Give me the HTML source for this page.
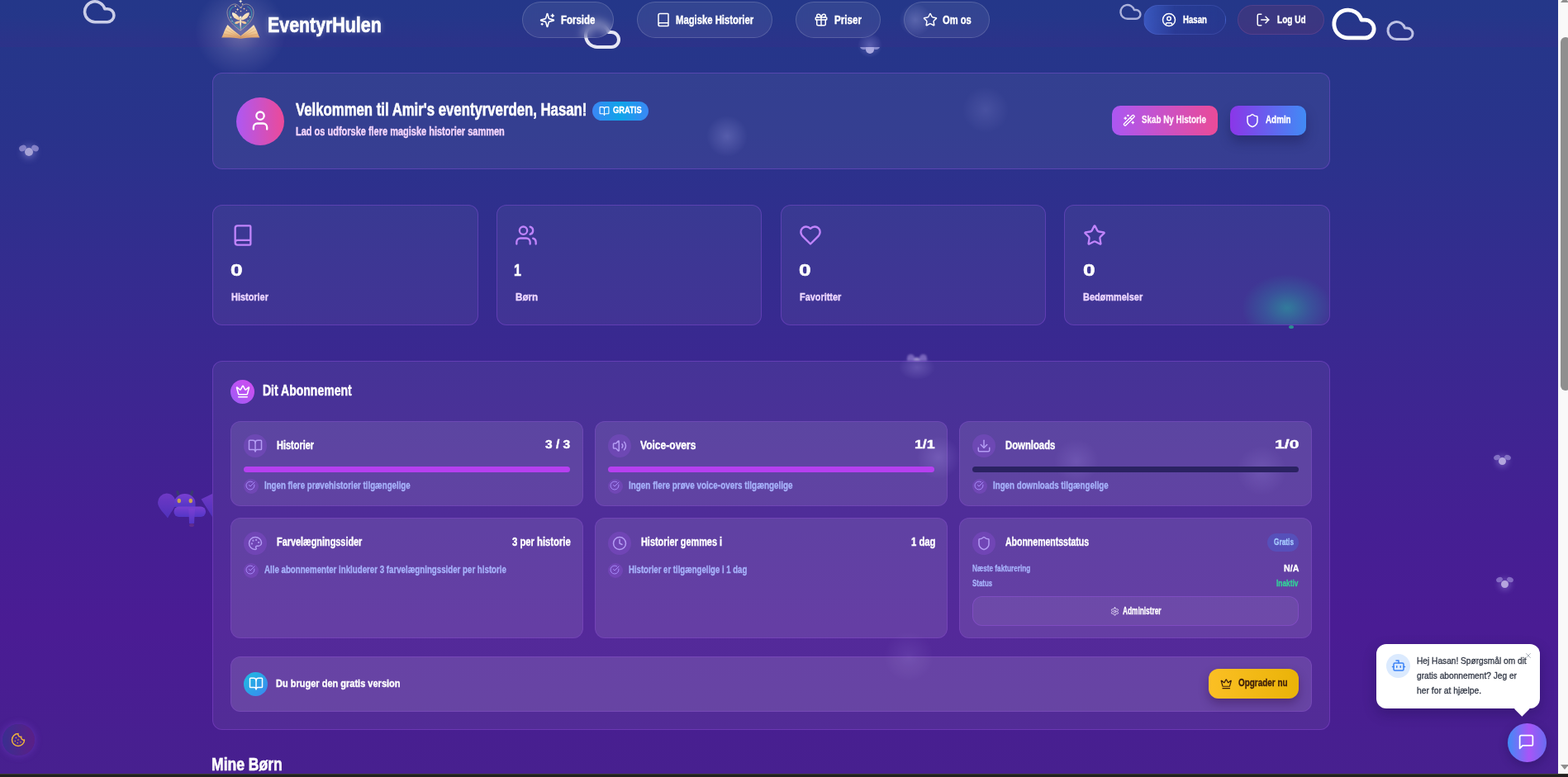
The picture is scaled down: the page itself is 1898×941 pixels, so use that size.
<!DOCTYPE html>
<html lang="da"><head><meta charset="utf-8"><title>EventyrHulen</title>
<style>
*{box-sizing:border-box;margin:0;padding:0}
html,body{width:1898px;height:941px;overflow:hidden;background:#202020}
body{position:relative;font-family:"Liberation Sans",sans-serif}
#page{position:absolute;left:0;top:0;width:1886px;height:937px;overflow:hidden;
 background:linear-gradient(180deg,#243789 0px,#29338b 160px,#342c8f 330px,#3d2691 480px,#451f93 640px,#4a1c94 760px,#47208f 937px)}
.a{position:absolute}
.tx{position:absolute;white-space:nowrap;transform-origin:0 50%;font-family:"Liberation Sans",sans-serif}
.ic{position:absolute;overflow:visible}
.pill{position:absolute;border-radius:999px;border:1px solid rgba(255,255,255,.16);background:rgba(255,255,255,.07);backdrop-filter:blur(6px)}
.card{position:absolute;border-radius:12px;border:1px solid rgba(168,85,247,.30);background:rgba(255,255,255,.05)}
.icard{position:absolute;border-radius:12px;border:1px solid rgba(168,85,247,.22);background:rgba(255,255,255,.10)}
.circ{position:absolute;border-radius:50%}
.ib{position:absolute;border-radius:50%;width:28px;height:28px;background:rgba(168,85,247,.22)}
.cb{position:absolute;border-radius:50%;width:18px;height:18px;background:rgba(168,85,247,.22)}
.bar{position:absolute;height:7px;border-radius:4px}
#sb{position:absolute;left:1886px;top:0;width:12px;height:937px;background:#f9f9f9}
</style></head><body>
<div id="page">
 <div class="a" style="left:0;top:0;width:1886px;height:57px;background:linear-gradient(180deg,rgba(88,28,135,0) 35%,rgba(88,28,135,.13) 100%)"></div>
 <!-- logo glow -->
 <div class="a" style="left:236px;top:-16px;width:110px;height:108px;border-radius:50%;background:radial-gradient(closest-side,rgba(175,168,200,.5),rgba(160,155,205,.2) 50%,rgba(140,150,230,0))"></div>
 <!-- decorative clouds -->
 <svg class="ic" style="left:99px;top:-7.4px;width:42.5px;height:42.5px;color:rgba(225,226,245,.88);" viewBox="0 0 24 24" fill="none" stroke="currentColor" stroke-width="2" stroke-linecap="round" stroke-linejoin="round"><path d="M17.5 19H9a7 7 0 1 1 6.71-9h1.79a4.5 4.5 0 1 1 0 9Z"/></svg>
 <svg class="ic" style="left:704.6px;top:18.8px;width:48px;height:48px;color:rgba(240,240,250,.95);" viewBox="0 0 24 24" fill="none" stroke="currentColor" stroke-width="2" stroke-linecap="round" stroke-linejoin="round"><path d="M17.5 19H9a7 7 0 1 1 6.71-9h1.79a4.5 4.5 0 1 1 0 9Z"/></svg>
 <svg class="ic" style="left:1353.5px;top:0px;width:28.8px;height:28.8px;color:rgba(205,208,240,.8);" viewBox="0 0 24 24" fill="none" stroke="currentColor" stroke-width="2" stroke-linecap="round" stroke-linejoin="round"><path d="M17.5 19H9a7 7 0 1 1 6.71-9h1.79a4.5 4.5 0 1 1 0 9Z"/></svg>
 <svg class="ic" style="left:1610px;top:0px;width:58px;height:58px;color:#ffffff;" viewBox="0 0 24 24" fill="none" stroke="currentColor" stroke-width="2" stroke-linecap="round" stroke-linejoin="round"><path d="M17.5 19H9a7 7 0 1 1 6.71-9h1.79a4.5 4.5 0 1 1 0 9Z"/></svg>
 <svg class="ic" style="left:1677.3px;top:18.6px;width:36px;height:36px;color:rgba(215,217,245,.85);" viewBox="0 0 24 24" fill="none" stroke="currentColor" stroke-width="2" stroke-linecap="round" stroke-linejoin="round"><path d="M17.5 19H9a7 7 0 1 1 6.71-9h1.79a4.5 4.5 0 1 1 0 9Z"/></svg>

 <!-- fireflies -->
 <div class="a" style="left:22px;top:174px;width:26px;height:20px;filter:blur(.7px)">
  <div class="circ" style="left:8px;top:5px;width:10px;height:10px;background:#a7a3d6;box-shadow:0 0 8px 3px rgba(190,185,255,.35)"></div>
  <div class="a" style="left:1px;top:2px;width:9px;height:7px;border-radius:50%;background:rgba(150,145,210,.8);transform:rotate(-25deg)"></div>
  <div class="a" style="left:16px;top:2px;width:9px;height:7px;border-radius:50%;background:rgba(150,145,210,.8);transform:rotate(25deg)"></div>
 </div>
 <div class="a" style="left:1038px;top:57px;width:30px;height:12px;overflow:hidden;filter:blur(.5px)">
  <div class="circ" style="left:9.8px;top:-2.8px;width:10.5px;height:10.5px;background:#aaa9dc"></div>
  <div class="a" style="left:3px;top:-4px;width:10px;height:7px;border-radius:50%;background:rgba(160,160,220,.75)"></div>
  <div class="a" style="left:17px;top:-4px;width:10px;height:7px;border-radius:50%;background:rgba(160,160,220,.75)"></div>
 </div>
 <div class="a" style="left:1038px;top:40px;width:30px;height:30px;border-radius:50%;background:radial-gradient(closest-side,rgba(170,170,240,.35),rgba(170,170,240,0))"></div>
 <div class="a" style="left:1097px;top:427px;width:26px;height:10px;overflow:hidden;filter:blur(1px);opacity:.8">
  <div class="circ" style="left:8px;top:6px;width:9px;height:9px;background:#b3a6da"></div>
  <div class="a" style="left:1px;top:2px;width:9px;height:9px;border-radius:50% 50% 0 0;background:rgba(150,130,210,.8)"></div>
  <div class="a" style="left:16px;top:2px;width:9px;height:9px;border-radius:50% 50% 0 0;background:rgba(150,130,210,.8)"></div>
 </div>
 <div class="a" style="left:1807px;top:550px;width:24px;height:18px;filter:blur(.6px)">
  <div class="circ" style="left:7px;top:4px;width:9px;height:9px;background:#b2a6dd;box-shadow:0 0 7px 3px rgba(190,180,255,.3)"></div>
  <div class="a" style="left:1px;top:1px;width:8px;height:6px;border-radius:50%;background:rgba(150,135,210,.75);transform:rotate(-25deg)"></div>
  <div class="a" style="left:14px;top:1px;width:8px;height:6px;border-radius:50%;background:rgba(150,135,210,.75);transform:rotate(25deg)"></div>
 </div>
 <div class="a" style="left:1810px;top:698px;width:24px;height:18px;filter:blur(.6px)">
  <div class="circ" style="left:7px;top:5px;width:9px;height:9px;background:#b6a5de;box-shadow:0 0 7px 3px rgba(190,180,255,.3)"></div>
  <div class="a" style="left:1px;top:1px;width:8px;height:6px;border-radius:50%;background:rgba(150,130,210,.75);transform:rotate(-25deg)"></div>
  <div class="a" style="left:14px;top:1px;width:8px;height:6px;border-radius:50%;background:rgba(150,130,210,.75);transform:rotate(25deg)"></div>
 </div>

 <!-- dragon -->
 <svg class="a" style="left:185px;top:590px;width:80px;height:50px;filter:blur(.7px)" viewBox="185 590 80 50">
  <defs><linearGradient id="dg" x1="0" y1="0" x2="0" y2="1"><stop offset="0" stop-color="#7a3fd2"/><stop offset="1" stop-color="#5336c6"/></linearGradient></defs>
  <path d="M201.5 597.5a11 11 0 0 1 11 11c0 6-6 12-9.5 19c-4-6-12-12-12-19a11 11 0 0 1 10.5-11z" fill="url(#dg)" opacity=".8"/>
  <path d="M243.5 604.5 L257 598 L257 626 Z" fill="url(#dg)" opacity=".8"/>
  <path d="M216.5 600.5 L214.8 595.5" stroke="#393a72" stroke-width="3.2" stroke-linecap="round"/>
  <path d="M231 600.5 L232.7 595.5" stroke="#393a72" stroke-width="3.2" stroke-linecap="round"/>
  <path d="M211 614 V609 a12.7 11 0 0 1 25.5 0 V614 Z" fill="url(#dg)"/>
  <rect x="210.5" y="613.5" width="38.5" height="12.5" rx="6" fill="url(#dg)"/>
  <path d="M228.5 616 L236 616 L235 634 L229 634 Z" fill="url(#dg)"/>
  <ellipse cx="216.8" cy="606.5" rx="2.2" ry="2.7" fill="#c9a24e"/>
  <ellipse cx="230.8" cy="606.5" rx="2.2" ry="2.7" fill="#c9a24e"/>
  <ellipse cx="232" cy="636" rx="3" ry="2" fill="#7a3a8a" opacity=".5"/>
 </svg>

 <!-- logo -->
 <svg class="a" style="left:255px;top:0;width:70px;height:55px" viewBox="0 0 70 55">
  <defs><linearGradient id="pg" x1="0" y1="0" x2="0" y2="1"><stop offset="0" stop-color="#f9e8c4"/><stop offset=".6" stop-color="#efc58f"/><stop offset="1" stop-color="#d99a66"/></linearGradient>
  <linearGradient id="wg" x1="0" y1="0" x2="1" y2="1"><stop offset="0" stop-color="#fdf6dc"/><stop offset="1" stop-color="#f0c896"/></linearGradient></defs>
  <path d="M36 37 C28 31 20.5 25 20 16 C19.5 9 25 4.5 30 5 C33 5.5 35 8 36 10 C37 8 39 5.5 42 5 C47 4.5 52.5 9 52 16 C51.5 25 44 31 36 37" fill="none" stroke="#cdbba6" stroke-width=".8" opacity=".75"/>
  <path d="M35.5 34.5 C29 29.5 23 24 22.8 17 C22.6 12 25.5 8.5 28.5 8 M37 34.5 C43.5 29.5 49.5 24 49.7 17 C49.9 12 47 8.5 44 8" fill="none" stroke="#3d93a8" stroke-width="1.2" opacity=".85"/>
  <path d="M36.2 -.6 l.7 1.5 l1.5 .7 l-1.5 .7 l-.7 1.5 l-.7 -1.5 l-1.5 -.7 l1.5 -.7z" fill="#f6eed8"/>
  <path d="M32.6 9.8 l.5 1.1 l1.1 .5 l-1.1 .5 l-.5 1.1 l-.5 -1.1 l-1.1 -.5 l1.1 -.5z" fill="#f3d7b8"/>
  <circle cx="30" cy="7.3" r=".9" fill="#f2d3b0"/><circle cx="38.5" cy="5" r=".8" fill="#eed8c0"/>
  <circle cx="37" cy="9" r=".8" fill="#e8c8b0"/><circle cx="40.5" cy="10.6" r=".9" fill="#f0c8a8"/><circle cx="43.5" cy="12.6" r=".7" fill="#f0c8a8"/>
  <circle cx="30.5" cy="14.5" r=".7" fill="#f0d0b8"/><circle cx="36.5" cy="13.6" r=".8" fill="#f0d0b8"/><circle cx="24.5" cy="21" r=".8" fill="#f0e0d0"/><circle cx="47.5" cy="20.5" r=".8" fill="#f0e0d0"/>
  <circle cx="26" cy="25.5" r=".6" fill="#f0e0d0"/><circle cx="45" cy="25" r=".6" fill="#f0e0d0"/>
  <path d="M35.5 22.5 C33 18 28 14.5 26 15.5 C25.5 19.5 29.5 23.5 35 24.5 Z" fill="url(#wg)"/>
  <path d="M37 22.5 C39.5 18 44.5 14.5 46.8 15.5 C47 19.5 43 23.5 37.5 24.5 Z" fill="url(#wg)"/>
  <path d="M35.3 25.5 C32.5 25 29 26.5 29 28.3 C31 29.8 34 28.5 35.5 26.8 Z" fill="#f2c89a"/>
  <path d="M37.2 25.5 C40 25 43.5 26.5 43.5 28.3 C41.5 29.8 38.5 28.5 37 26.8 Z" fill="#f2c89a"/>
  <path d="M36.2 21 C35 22.5 35 28 35.6 31 L36.2 37.5 L36.8 31 C37.4 28 37.4 22.5 36.2 21Z" fill="#f8e8c8"/>
  <circle cx="36.2" cy="21" r="1.4" fill="#f8ecd4"/>
  <path d="M36.3 46.8 L36.3 43.5 C31 39.5 25 34.5 20.5 30 C18.5 33 16.5 37.5 15.5 40.5 C14.8 42.5 14 44 13.2 45.6 C21 45.3 30 45.6 36.3 46.8 Z" fill="url(#pg)"/>
  <path d="M36.3 46.8 L36.3 43.5 C41.6 39.5 47.6 34.5 52.1 30 C54.1 33 56.1 37.5 57.1 40.5 C57.8 42.5 58.6 44 59.4 45.6 C51.6 45.3 42.6 45.6 36.3 46.8 Z" fill="url(#pg)"/>
  <path d="M19.2 33.2 C25 37.5 31 41.5 36.2 45 M17.4 37.2 C24 40 30.5 42.5 36.2 45.6 M15.8 41.2 C23 42.5 30 44 36.2 46.2 M53.4 33.2 C47.6 37.5 41.6 41.5 36.4 45 M55.2 37.2 C48.6 40 42.1 42.5 36.4 45.6 M56.8 41.2 C49.6 42.5 42.6 44 36.4 46.2" fill="none" stroke="#c2875a" stroke-width=".45" opacity=".75"/>
 </svg>

 <!-- nav -->
 <div class="pill" style="left:632px;top:2px;width:111px;height:44px"></div>
 <div class="pill" style="left:771px;top:2px;width:164px;height:44px"></div>
 <div class="pill" style="left:963px;top:2px;width:103px;height:44px"></div>
 <div class="pill" style="left:1094px;top:2px;width:104px;height:44px"></div>
 <svg class="ic" style="left:653px;top:14.5px;width:19px;height:19px;color:#fff;" viewBox="0 0 24 24" fill="none" stroke="currentColor" stroke-width="2" stroke-linecap="round" stroke-linejoin="round"><path d="M9.937 15.5A2 2 0 0 0 8.5 14.063l-6.135-1.582a.5.5 0 0 1 0-.962L8.5 9.936A2 2 0 0 0 9.937 8.5l1.582-6.135a.5.5 0 0 1 .963 0L14.063 8.5A2 2 0 0 0 15.5 9.937l6.135 1.581a.5.5 0 0 1 0 .964L15.5 14.063a2 2 0 0 0-1.437 1.437l-1.582 6.135a.5.5 0 0 1-.963 0z"/><path d="M20 3v4"/><path d="M22 5h-4"/><path d="M4 17v2"/><path d="M5 18H3"/></svg>
 <svg class="ic" style="left:794px;top:15px;width:18px;height:18px;color:#fff;" viewBox="0 0 24 24" fill="none" stroke="currentColor" stroke-width="2" stroke-linecap="round" stroke-linejoin="round"><path d="M4 19.5v-15A2.5 2.5 0 0 1 6.5 2H19a1 1 0 0 1 1 1v18a1 1 0 0 1-1 1H6.5a1 1 0 0 1 0-5H20"/></svg>
 <svg class="ic" style="left:984.5px;top:15px;width:18px;height:18px;color:#fff;" viewBox="0 0 24 24" fill="none" stroke="currentColor" stroke-width="2" stroke-linecap="round" stroke-linejoin="round"><rect x="3" y="8" width="18" height="4" rx="1"/><path d="M12 8v13"/><path d="M19 12v7a2 2 0 0 1-2 2H7a2 2 0 0 1-2-2v-7"/><path d="M7.5 8a2.5 2.5 0 0 1 0-5A4.8 8 0 0 1 12 8a4.8 8 0 0 1 4.5-5 2.5 2.5 0 0 1 0 5"/></svg>
 <svg class="ic" style="left:1116.6px;top:15px;width:18px;height:18px;color:#fff;" viewBox="0 0 24 24" fill="none" stroke="currentColor" stroke-width="2" stroke-linecap="round" stroke-linejoin="round"><path d="M11.525 2.295a.53.53 0 0 1 .95 0l2.31 4.679a2.123 2.123 0 0 0 1.595 1.16l5.166.756a.53.53 0 0 1 .294.904l-3.736 3.638a2.123 2.123 0 0 0-.611 1.878l.882 5.14a.53.53 0 0 1-.771.56l-4.618-2.428a2.122 2.122 0 0 0-1.973 0L6.396 21.01a.53.53 0 0 1-.77-.56l.881-5.139a2.122 2.122 0 0 0-.611-1.879L2.16 9.795a.53.53 0 0 1 .294-.906l5.165-.755a2.122 2.122 0 0 0 1.597-1.16z"/></svg>
 <div class="pill" style="left:1384px;top:6px;width:100px;height:36px;background:linear-gradient(90deg,rgba(75,115,235,.55) 0%,rgba(60,90,210,.16) 38%,rgba(60,90,210,.07) 100%);border-color:rgba(130,150,255,.17)"></div>
 <div class="pill" style="left:1498px;top:6px;width:105px;height:36px;background:rgba(239,68,68,.11);border-color:rgba(200,120,200,.17)"></div>
 <svg class="ic" style="left:1406px;top:14.5px;width:18px;height:18px;color:#fff;" viewBox="0 0 24 24" fill="none" stroke="currentColor" stroke-width="2" stroke-linecap="round" stroke-linejoin="round"><circle cx="12" cy="12" r="10"/><circle cx="12" cy="10" r="3"/><path d="M7 20.662V19a2 2 0 0 1 2-2h6a2 2 0 0 1 2 2v1.662"/></svg>
 <svg class="ic" style="left:1520px;top:14.5px;width:18px;height:18px;color:#fff;" viewBox="0 0 24 24" fill="none" stroke="currentColor" stroke-width="2" stroke-linecap="round" stroke-linejoin="round"><path d="M9 21H5a2 2 0 0 1-2-2V5a2 2 0 0 1 2-2h4"/><polyline points="16 17 21 12 16 7"/><line x1="21" x2="9" y1="12" y2="12"/></svg>

 <!-- welcome card -->
 <div class="card" style="left:257px;top:88px;width:1353px;height:117px;background:rgba(255,255,255,.06)"></div>
 <div class="a" style="left:855px;top:140px;width:50px;height:50px;border-radius:50%;background:radial-gradient(closest-side,rgba(170,170,240,.28),rgba(170,170,240,0))"></div>
 <div class="a" style="left:1165px;top:105px;width:56px;height:56px;border-radius:50%;background:radial-gradient(closest-side,rgba(170,170,240,.16),rgba(170,170,240,0))"></div>
 <div class="circ" style="left:286px;top:117.5px;width:58px;height:58px;background:linear-gradient(90deg,#ad58f3,#ec4a98)"></div>
 <svg class="ic" style="left:301.3px;top:132px;width:28px;height:28px;color:#fff;" viewBox="0 0 24 24" fill="none" stroke="currentColor" stroke-width="2" stroke-linecap="round" stroke-linejoin="round"><path d="M19 21v-2a4 4 0 0 0-4-4H9a4 4 0 0 0-4 4v2"/><circle cx="12" cy="7" r="4"/></svg>
 <div class="a" style="left:717px;top:123.3px;width:68px;height:22.5px;border-radius:12px;background:linear-gradient(90deg,#3b86f5,#0ea5e9 50%,#3b88f6)"></div>
 <svg class="ic" style="left:725.3px;top:127.5px;width:13px;height:13px;color:#fff;" viewBox="0 0 24 24" fill="none" stroke="currentColor" stroke-width="2" stroke-linecap="round" stroke-linejoin="round"><path d="M12 7v14"/><path d="M3 18a1 1 0 0 1-1-1V4a1 1 0 0 1 1-1h5a4 4 0 0 1 4 4 4 4 0 0 1 4-4h5a1 1 0 0 1 1 1v13a1 1 0 0 1-1 1h-6a3 3 0 0 0-3 3 3 3 0 0 0-3-3z"/></svg>
 <div class="a" style="left:1346px;top:128px;width:128px;height:36px;border-radius:10px;background:linear-gradient(90deg,#ab57f2,#ea4b98)"></div>
 <svg class="ic" style="left:1359.2px;top:138.2px;width:15.5px;height:15.5px;color:#fff;" viewBox="0 0 24 24" fill="none" stroke="currentColor" stroke-width="2" stroke-linecap="round" stroke-linejoin="round"><path d="m21.64 3.64-1.28-1.28a1.21 1.21 0 0 0-1.72 0L2.36 18.64a1.21 1.21 0 0 0 0 1.72l1.28 1.28a1.2 1.2 0 0 0 1.72 0L21.64 5.36a1.2 1.2 0 0 0 0-1.72"/><path d="m14 7 3 3"/><path d="M5 6v4"/><path d="M19 14v4"/><path d="M10 2v2"/><path d="M7 8H3"/><path d="M21 16h-4"/><path d="M11 3H9"/></svg>
 <div class="a" style="left:1489px;top:128px;width:92px;height:36px;border-radius:10px;background:linear-gradient(90deg,#8b36e8,#418bf5);box-shadow:0 8px 14px rgba(20,20,70,.35)"></div>
 <svg class="ic" style="left:1507px;top:137px;width:18px;height:18px;color:#fff;" viewBox="0 0 24 24" fill="none" stroke="currentColor" stroke-width="2" stroke-linecap="round" stroke-linejoin="round"><path d="M20 13c0 5-3.5 7.5-7.66 8.95a1 1 0 0 1-.67-.01C7.5 20.5 4 18 4 13V6a1 1 0 0 1 1-1c2 0 4.5-1.2 6.24-2.72a1.17 1.17 0 0 1 1.52 0C14.51 3.81 17 5 19 5a1 1 0 0 1 1 1z"/></svg>

 <!-- stat cards -->
 <div class="card" style="left:257px;top:248.4px;width:321.6px;height:145.4px"></div>
 <div class="card" style="left:600.5px;top:248.4px;width:321.6px;height:145.4px"></div>
 <div class="card" style="left:944.5px;top:248.4px;width:321.6px;height:145.4px"></div>
 <div class="card" style="left:1288.4px;top:248.4px;width:321.6px;height:145.4px;overflow:hidden">
  <div class="a" style="left:214px;top:83px;width:110px;height:82px;border-radius:50%;background:radial-gradient(closest-side,rgba(40,170,160,.6),rgba(40,160,170,.28) 50%,rgba(40,160,170,0))"></div>
 </div>
 <div class="circ" style="left:1559.5px;top:393.5px;width:6px;height:4px;background:#2a8f8f;filter:blur(.6px)"></div>
 <svg class="ic" style="left:280px;top:271px;width:28px;height:28px;color:#c084fc;" viewBox="0 0 24 24" fill="none" stroke="currentColor" stroke-width="2" stroke-linecap="round" stroke-linejoin="round"><path d="M4 19.5v-15A2.5 2.5 0 0 1 6.5 2H19a1 1 0 0 1 1 1v18a1 1 0 0 1-1 1H6.5a1 1 0 0 1 0-5H20"/></svg>
 <svg class="ic" style="left:623.3px;top:271px;width:28px;height:28px;color:#c084fc;" viewBox="0 0 24 24" fill="none" stroke="currentColor" stroke-width="2" stroke-linecap="round" stroke-linejoin="round"><path d="M16 21v-2a4 4 0 0 0-4-4H6a4 4 0 0 0-4 4v2"/><circle cx="9" cy="7" r="4"/><path d="M22 21v-2a4 4 0 0 0-3-3.87"/><path d="M16 3.13a4 4 0 0 1 0 7.75"/></svg>
 <svg class="ic" style="left:967.3px;top:271px;width:28px;height:28px;color:#c084fc;" viewBox="0 0 24 24" fill="none" stroke="currentColor" stroke-width="2" stroke-linecap="round" stroke-linejoin="round"><path d="M19 14c1.49-1.46 3-3.21 3-5.5A5.5 5.5 0 0 0 16.5 3c-1.76 0-3 .5-4.5 2-1.5-1.5-2.74-2-4.5-2A5.5 5.5 0 0 0 2 8.5c0 2.3 1.5 4.05 3 5.5l7 7Z"/></svg>
 <svg class="ic" style="left:1311.2px;top:271px;width:28px;height:28px;color:#c084fc;" viewBox="0 0 24 24" fill="none" stroke="currentColor" stroke-width="2" stroke-linecap="round" stroke-linejoin="round"><path d="M11.525 2.295a.53.53 0 0 1 .95 0l2.31 4.679a2.123 2.123 0 0 0 1.595 1.16l5.166.756a.53.53 0 0 1 .294.904l-3.736 3.638a2.123 2.123 0 0 0-.611 1.878l.882 5.14a.53.53 0 0 1-.771.56l-4.618-2.428a2.122 2.122 0 0 0-1.973 0L6.396 21.01a.53.53 0 0 1-.77-.56l.881-5.139a2.122 2.122 0 0 0-.611-1.879L2.16 9.795a.53.53 0 0 1 .294-.906l5.165-.755a2.122 2.122 0 0 0 1.597-1.16z"/></svg>

 <!-- subscription -->
 <div class="card" style="left:257px;top:437px;width:1353px;height:446.5px;background:rgba(255,255,255,.06)"></div>
 <div class="circ" style="left:279px;top:460px;width:29px;height:29px;background:linear-gradient(45deg,#9b5cf6,#d44cf0)"></div>
 <svg class="ic" style="left:285.2px;top:464.8px;width:18px;height:18px;color:#fff;" viewBox="0 0 24 24" fill="none" stroke="currentColor" stroke-width="2" stroke-linecap="round" stroke-linejoin="round"><path d="M11.562 3.266a.5.5 0 0 1 .876 0L15.39 8.87a1 1 0 0 0 1.516.294L21.183 5.5a.5.5 0 0 1 .798.519l-2.834 10.246a1 1 0 0 1-.956.734H5.81a1 1 0 0 1-.957-.734L2.02 6.02a.5.5 0 0 1 .798-.519l4.276 3.664a1 1 0 0 0 1.516-.294z"/><path d="M5 21h14"/></svg>

 <div class="icard" style="left:279px;top:510px;width:427px;height:102.5px"></div>
 <div class="icard" style="left:720px;top:510px;width:427px;height:102.5px"></div>
 <div class="icard" style="left:1161px;top:510px;width:427px;height:102.5px"></div>
 <div class="icard" style="left:279px;top:627px;width:427px;height:145.5px"></div>
 <div class="icard" style="left:720px;top:627px;width:427px;height:145.5px"></div>
 <div class="icard" style="left:1161px;top:627px;width:427px;height:145.5px"></div>


 <div class="a" style="left:1110px;top:528px;width:52px;height:52px;border-radius:50%;background:radial-gradient(closest-side,rgba(190,170,255,.22),rgba(190,170,255,0))"></div>
 <div class="a" style="left:1276px;top:532px;width:54px;height:54px;border-radius:50%;background:radial-gradient(closest-side,rgba(190,170,255,.16),rgba(190,170,255,0))"></div>
 <div class="a" style="left:1497px;top:540px;width:60px;height:60px;border-radius:50%;background:radial-gradient(closest-side,rgba(190,170,255,.16),rgba(190,170,255,0))"></div>
 <div class="a" style="left:1070px;top:765px;width:60px;height:60px;border-radius:50%;background:radial-gradient(closest-side,rgba(190,170,255,.12),rgba(190,170,255,0))"></div>
 <div class="a" style="left:1088px;top:430px;width:44px;height:30px;border-radius:50%;background:radial-gradient(closest-side,rgba(200,190,255,.22),rgba(200,190,255,0))"></div>
 <div class="a" style="left:1088px;top:4px;width:40px;height:40px;border-radius:50%;background:radial-gradient(closest-side,rgba(200,200,255,.25),rgba(200,200,255,0))"></div>
 <div class="ib" style="left:295px;top:526px"></div>
 <div class="ib" style="left:736px;top:526px"></div>
 <div class="ib" style="left:1177px;top:526px"></div>
 <div class="ib" style="left:295px;top:643.5px"></div>
 <div class="ib" style="left:736px;top:643.5px"></div>
 <div class="ib" style="left:1177px;top:643.5px"></div>
 <svg class="ic" style="left:300px;top:531px;width:18px;height:18px;color:#b49cf4;" viewBox="0 0 24 24" fill="none" stroke="currentColor" stroke-width="2" stroke-linecap="round" stroke-linejoin="round"><path d="M12 7v14"/><path d="M3 18a1 1 0 0 1-1-1V4a1 1 0 0 1 1-1h5a4 4 0 0 1 4 4 4 4 0 0 1 4-4h5a1 1 0 0 1 1 1v13a1 1 0 0 1-1 1h-6a3 3 0 0 0-3 3 3 3 0 0 0-3-3z"/></svg>
 <svg class="ic" style="left:741px;top:531px;width:18px;height:18px;color:#b49cf4;" viewBox="0 0 24 24" fill="none" stroke="currentColor" stroke-width="2" stroke-linecap="round" stroke-linejoin="round"><path d="M11 4.702a.705.705 0 0 0-1.203-.498L6.413 7.587A1.4 1.4 0 0 1 5.416 8H3a1 1 0 0 0-1 1v6a1 1 0 0 0 1 1h2.416a1.4 1.4 0 0 1 .997.413l3.383 3.384A.705.705 0 0 0 11 19.298z"/><path d="M16 9a5 5 0 0 1 0 6"/><path d="M19.364 18.364a9 9 0 0 0 0-12.728"/></svg>
 <svg class="ic" style="left:1182px;top:531px;width:18px;height:18px;color:#b49cf4;" viewBox="0 0 24 24" fill="none" stroke="currentColor" stroke-width="2" stroke-linecap="round" stroke-linejoin="round"><path d="M21 15v4a2 2 0 0 1-2 2H5a2 2 0 0 1-2-2v-4"/><polyline points="7 10 12 15 17 10"/><line x1="12" x2="12" y1="15" y2="3"/></svg>
 <svg class="ic" style="left:300px;top:648.5px;width:18px;height:18px;color:#b49cf4;" viewBox="0 0 24 24" fill="none" stroke="currentColor" stroke-width="2" stroke-linecap="round" stroke-linejoin="round"><circle cx="13.5" cy="6.5" r=".5" fill="currentColor"/><circle cx="17.5" cy="10.5" r=".5" fill="currentColor"/><circle cx="8.5" cy="7.5" r=".5" fill="currentColor"/><circle cx="6.5" cy="12.5" r=".5" fill="currentColor"/><path d="M12 2C6.5 2 2 6.5 2 12s4.5 10 10 10c.926 0 1.648-.746 1.648-1.688 0-.437-.18-.835-.437-1.125-.29-.289-.438-.652-.438-1.125a1.64 1.64 0 0 1 1.668-1.668h1.996c3.051 0 5.555-2.503 5.555-5.554C21.965 6.012 17.461 2 12 2z"/></svg>
 <svg class="ic" style="left:741px;top:648.5px;width:18px;height:18px;color:#b49cf4;" viewBox="0 0 24 24" fill="none" stroke="currentColor" stroke-width="2" stroke-linecap="round" stroke-linejoin="round"><circle cx="12" cy="12" r="10"/><polyline points="12 6 12 12 16 14"/></svg>
 <svg class="ic" style="left:1182px;top:648.5px;width:18px;height:18px;color:#b49cf4;" viewBox="0 0 24 24" fill="none" stroke="currentColor" stroke-width="2" stroke-linecap="round" stroke-linejoin="round"><path d="M20 13c0 5-3.5 7.5-7.66 8.95a1 1 0 0 1-.67-.01C7.5 20.5 4 18 4 13V6a1 1 0 0 1 1-1c2 0 4.5-1.2 6.24-2.72a1.17 1.17 0 0 1 1.52 0C14.51 3.81 17 5 19 5a1 1 0 0 1 1 1z"/></svg>

 <div class="bar" style="left:295px;top:564.8px;width:395px;background:#b63ff0"></div>
 <div class="bar" style="left:736px;top:564.8px;width:395px;background:#b63ff0"></div>
 <div class="bar" style="left:1177px;top:564.8px;width:395px;background:#2b2262"></div>

 <div class="cb" style="left:295px;top:580px"></div>
 <div class="cb" style="left:736px;top:580px"></div>
 <div class="cb" style="left:1177px;top:580px"></div>
 <div class="cb" style="left:295px;top:682px"></div>
 <div class="cb" style="left:736px;top:682px"></div>
 <svg class="ic" style="left:297px;top:582px;width:12px;height:12px;color:#a78bfa;" viewBox="0 0 24 24" fill="none" stroke="currentColor" stroke-width="2" stroke-linecap="round" stroke-linejoin="round"><path d="M21.801 10A10 10 0 1 1 17 3.335"/><path d="m9 11 3 3L22 4"/></svg>
 <svg class="ic" style="left:738px;top:582px;width:12px;height:12px;color:#a78bfa;" viewBox="0 0 24 24" fill="none" stroke="currentColor" stroke-width="2" stroke-linecap="round" stroke-linejoin="round"><path d="M21.801 10A10 10 0 1 1 17 3.335"/><path d="m9 11 3 3L22 4"/></svg>
 <svg class="ic" style="left:1179px;top:582px;width:12px;height:12px;color:#a78bfa;" viewBox="0 0 24 24" fill="none" stroke="currentColor" stroke-width="2" stroke-linecap="round" stroke-linejoin="round"><path d="M21.801 10A10 10 0 1 1 17 3.335"/><path d="m9 11 3 3L22 4"/></svg>
 <svg class="ic" style="left:297px;top:684px;width:12px;height:12px;color:#a78bfa;" viewBox="0 0 24 24" fill="none" stroke="currentColor" stroke-width="2" stroke-linecap="round" stroke-linejoin="round"><path d="M21.801 10A10 10 0 1 1 17 3.335"/><path d="m9 11 3 3L22 4"/></svg>
 <svg class="ic" style="left:738px;top:684px;width:12px;height:12px;color:#a78bfa;" viewBox="0 0 24 24" fill="none" stroke="currentColor" stroke-width="2" stroke-linecap="round" stroke-linejoin="round"><path d="M21.801 10A10 10 0 1 1 17 3.335"/><path d="m9 11 3 3L22 4"/></svg>

 <div class="a" style="left:1534px;top:646px;width:38px;height:22px;border-radius:11px;background:rgba(70,110,230,.35)"></div>
 <div class="a" style="left:1177px;top:722px;width:395px;height:36px;border-radius:12px;background:rgba(255,255,255,.06);border:1px solid rgba(168,85,247,.3)"></div>
 <svg class="ic" style="left:1343.5px;top:734.5px;width:11px;height:11px;color:#f0e8ff;" viewBox="0 0 24 24" fill="none" stroke="currentColor" stroke-width="2" stroke-linecap="round" stroke-linejoin="round"><path d="M12.22 2h-.44a2 2 0 0 0-2 2v.18a2 2 0 0 1-1 1.73l-.43.25a2 2 0 0 1-2 0l-.15-.08a2 2 0 0 0-2.73.73l-.22.38a2 2 0 0 0 .73 2.73l.15.1a2 2 0 0 1 1 1.72v.51a2 2 0 0 1-1 1.74l-.15.09a2 2 0 0 0-.73 2.73l.22.38a2 2 0 0 0 2.73.73l.15-.08a2 2 0 0 1 2 0l.43.25a2 2 0 0 1 1 1.73V20a2 2 0 0 0 2 2h.44a2 2 0 0 0 2-2v-.18a2 2 0 0 1 1-1.73l.43-.25a2 2 0 0 1 2 0l.15.08a2 2 0 0 0 2.73-.73l.22-.39a2 2 0 0 0-.73-2.73l-.15-.08a2 2 0 0 1-1-1.74v-.5a2 2 0 0 1 1-1.74l.15-.09a2 2 0 0 0 .73-2.73l-.22-.38a2 2 0 0 0-2.73-.73l-.15.08a2 2 0 0 1-2 0l-.43-.25a2 2 0 0 1-1-1.73V4a2 2 0 0 0-2-2z"/><circle cx="12" cy="12" r="3"/></svg>

 <div class="icard" style="left:279px;top:795px;width:1309px;height:66.5px;background:rgba(255,255,255,.12)"></div>
 <div class="circ" style="left:295px;top:813.5px;width:29px;height:29px;background:linear-gradient(135deg,#1fbde0,#3b87f0)"></div>
 <svg class="ic" style="left:300.5px;top:819px;width:18px;height:18px;color:#fff;" viewBox="0 0 24 24" fill="none" stroke="currentColor" stroke-width="2" stroke-linecap="round" stroke-linejoin="round"><path d="M12 7v14"/><path d="M3 18a1 1 0 0 1-1-1V4a1 1 0 0 1 1-1h5a4 4 0 0 1 4 4 4 4 0 0 1 4-4h5a1 1 0 0 1 1 1v13a1 1 0 0 1-1 1h-6a3 3 0 0 0-3 3 3 3 0 0 0-3-3z"/></svg>
 <div class="a" style="left:1463px;top:810px;width:109px;height:36px;border-radius:12px;background:linear-gradient(90deg,#fbbf24,#eab308);box-shadow:0 6px 12px rgba(40,10,60,.35)"></div>
 <svg class="ic" style="left:1477px;top:821px;width:14.5px;height:14.5px;color:#3b1d0b;" viewBox="0 0 24 24" fill="none" stroke="currentColor" stroke-width="2" stroke-linecap="round" stroke-linejoin="round"><path d="M11.562 3.266a.5.5 0 0 1 .876 0L15.39 8.87a1 1 0 0 0 1.516.294L21.183 5.5a.5.5 0 0 1 .798.519l-2.834 10.246a1 1 0 0 1-.956.734H5.81a1 1 0 0 1-.957-.734L2.02 6.02a.5.5 0 0 1 .798-.519l4.276 3.664a1 1 0 0 0 1.516-.294z"/><path d="M5 21h14"/></svg>

 <!-- cookie button -->
 <div class="circ" style="left:3px;top:876.5px;width:38.5px;height:38.5px;background:linear-gradient(90deg,#3a2e90,#5b1f86);box-shadow:0 0 10px rgba(150,80,240,.35)"></div>
 <svg class="ic" style="left:13px;top:887px;width:18px;height:18px;color:#f2b53c;" viewBox="0 0 24 24" fill="none" stroke="currentColor" stroke-width="2" stroke-linecap="round" stroke-linejoin="round"><path d="M12 2a10 10 0 1 0 10 10 4 4 0 0 1-5-5 4 4 0 0 1-5-5"/><path d="M8.5 8.5v.01"/><path d="M16 15.5v.01"/><path d="M12 12v.01"/><path d="M11 17v.01"/><path d="M7 14v.01"/></svg>

 <!-- chat bubble -->
 <div class="a" style="left:1666px;top:779.6px;width:198px;height:78.4px;border-radius:12px;background:#fff;box-shadow:0 6px 16px rgba(20,10,60,.3)"></div>
 <div class="a" style="left:1836px;top:851.8px;width:12.6px;height:12.6px;background:#fff;transform:rotate(45deg)"></div>
 <div class="circ" style="left:1678px;top:792.2px;width:29px;height:29px;background:#dbeafe"></div>
 <svg class="ic" style="left:1683.8px;top:796.5px;width:18px;height:18px;color:#3b82f6;" viewBox="0 0 24 24" fill="none" stroke="currentColor" stroke-width="2" stroke-linecap="round" stroke-linejoin="round"><path d="M12 8V4H8"/><rect width="16" height="12" x="4" y="8" rx="2"/><path d="M2 14h2"/><path d="M20 14h2"/><path d="M15 13v2"/><path d="M9 13v2"/></svg>
 <svg class="ic" style="left:1845px;top:789px;width:10px;height:10px;color:#9ca3af;" viewBox="0 0 24 24" fill="none" stroke="currentColor" stroke-width="2" stroke-linecap="round" stroke-linejoin="round"><path d="M18 6 6 18"/><path d="m6 6 12 12"/></svg>
 <!-- chat button -->
 <div class="circ" style="left:1825px;top:876px;width:47px;height:47px;background:linear-gradient(90deg,#3f8cf6,#a855f7 55%,#6a6cf1);box-shadow:0 4px 12px rgba(20,10,60,.3)"></div>
 <svg class="ic" style="left:1837px;top:888.2px;width:21px;height:21px;color:#fff;" viewBox="0 0 24 24" fill="none" stroke="currentColor" stroke-width="2" stroke-linecap="round" stroke-linejoin="round"><path d="M21 15a2 2 0 0 1-2 2H7l-4 4V5a2 2 0 0 1 2-2h14a2 2 0 0 1 2 2z"/></svg>

<span class="tx" style="left:324.19px;top:17.25px;font-size:26.40px;line-height:26.40px;color:#fff;font-weight:700;transform:scaleX(0.8095);-webkit-text-stroke:0.69px #fff;text-shadow:0 0 8px rgba(255,255,255,.35);">EventyrHulen</span>
<span class="tx" style="left:679.23px;top:17.06px;font-size:14.93px;line-height:14.93px;color:#fff;font-weight:700;transform:scaleX(0.7681);-webkit-text-stroke:0.39px #fff;">Forside</span>
<span class="tx" style="left:818.24px;top:17.06px;font-size:14.93px;line-height:14.93px;color:#fff;font-weight:700;transform:scaleX(0.7565);-webkit-text-stroke:0.39px #fff;">Magiske Historier</span>
<span class="tx" style="left:1010.22px;top:17.06px;font-size:14.93px;line-height:14.93px;color:#fff;font-weight:700;transform:scaleX(0.7807);-webkit-text-stroke:0.39px #fff;">Priser</span>
<span class="tx" style="left:1141.00px;top:17.06px;font-size:14.93px;line-height:14.93px;color:#fff;font-weight:700;transform:scaleX(0.7478);-webkit-text-stroke:0.39px #fff;">Om os</span>
<span class="tx" style="left:1431.80px;top:16.71px;font-size:13.33px;line-height:13.33px;color:#fff;font-weight:700;transform:scaleX(0.7225);-webkit-text-stroke:0.35px #fff;">Hasan</span>
<span class="tx" style="left:1546.00px;top:16.71px;font-size:13.33px;line-height:13.33px;color:#fff;font-weight:700;transform:scaleX(0.7562);-webkit-text-stroke:0.35px #fff;">Log Ud</span>
<span class="tx" style="left:358.00px;top:122.19px;font-size:21.87px;line-height:21.87px;color:#fff;font-weight:700;transform:scaleX(0.7660);-webkit-text-stroke:0.57px #fff;">Velkommen til Amir's eventyrverden, Hasan!</span>
<span class="tx" style="left:742.00px;top:128.34px;font-size:10.93px;line-height:10.93px;color:#fff;font-weight:700;transform:scaleX(0.8565);-webkit-text-stroke:0.28px #fff;">GRATIS</span>
<span class="tx" style="left:358.00px;top:152.96px;font-size:13.87px;line-height:13.87px;color:#f3d4fb;font-weight:700;transform:scaleX(0.7927);-webkit-text-stroke:0.36px #f3d4fb;">Lad os udforske flere magiske historier sammen</span>
<span class="tx" style="left:1382.00px;top:139.23px;font-size:12.13px;line-height:12.13px;color:#fff0fa;font-weight:700;transform:scaleX(0.8094);-webkit-text-stroke:0.32px #fff0fa;">Skab Ny Historie</span>
<span class="tx" style="left:1532.40px;top:139.23px;font-size:12.13px;line-height:12.13px;color:#fff;font-weight:700;transform:scaleX(0.8121);-webkit-text-stroke:0.32px #fff;">Admin</span>
<span class="tx" style="left:279.20px;top:317.07px;font-size:20.00px;line-height:20.00px;color:#fff;font-weight:700;transform:scaleX(1.3091);-webkit-text-stroke:0.52px #fff;">0</span>
<span class="tx" style="left:280.00px;top:353.09px;font-size:13.60px;line-height:13.60px;color:#ecd6ff;font-weight:700;transform:scaleX(0.8037);-webkit-text-stroke:0.35px #ecd6ff;">Historier</span>
<span class="tx" style="left:621.90px;top:317.07px;font-size:20.00px;line-height:20.00px;color:#fff;font-weight:700;transform:scaleX(0.8000);-webkit-text-stroke:0.52px #fff;">1</span>
<span class="tx" style="left:623.50px;top:353.09px;font-size:13.60px;line-height:13.60px;color:#ecd6ff;font-weight:700;transform:scaleX(0.8596);-webkit-text-stroke:0.35px #ecd6ff;">Børn</span>
<span class="tx" style="left:966.70px;top:317.07px;font-size:20.00px;line-height:20.00px;color:#fff;font-weight:700;transform:scaleX(1.3091);-webkit-text-stroke:0.52px #fff;">0</span>
<span class="tx" style="left:967.50px;top:353.09px;font-size:13.60px;line-height:13.60px;color:#ecd6ff;font-weight:700;transform:scaleX(0.8012);-webkit-text-stroke:0.35px #ecd6ff;">Favoritter</span>
<span class="tx" style="left:1310.60px;top:317.07px;font-size:20.00px;line-height:20.00px;color:#fff;font-weight:700;transform:scaleX(1.3091);-webkit-text-stroke:0.52px #fff;">0</span>
<span class="tx" style="left:1311.40px;top:353.09px;font-size:13.60px;line-height:13.60px;color:#ecd6ff;font-weight:700;transform:scaleX(0.8023);-webkit-text-stroke:0.35px #ecd6ff;">Bedømmelser</span>
<span class="tx" style="left:318.01px;top:464.99px;font-size:17.73px;line-height:17.73px;color:#fff;font-weight:700;transform:scaleX(0.7909);-webkit-text-stroke:0.46px #fff;">Dit Abonnement</span>
<span class="tx" style="left:334.70px;top:532.04px;font-size:14.13px;line-height:14.13px;color:#fff;font-weight:700;transform:scaleX(0.7766);-webkit-text-stroke:0.37px #fff;">Historier</span>
<span class="tx" style="left:775.20px;top:532.04px;font-size:14.13px;line-height:14.13px;color:#fff;font-weight:700;transform:scaleX(0.8538);-webkit-text-stroke:0.37px #fff;">Voice-overs</span>
<span class="tx" style="left:1216.50px;top:532.04px;font-size:14.13px;line-height:14.13px;color:#fff;font-weight:700;transform:scaleX(0.8015);-webkit-text-stroke:0.37px #fff;">Downloads</span>
<span class="tx" style="left:660.20px;top:531.44px;font-size:14.13px;line-height:14.13px;color:#fff;font-weight:700;transform:scaleX(1.1003);-webkit-text-stroke:0.37px #fff;">3 / 3</span>
<span class="tx" style="left:1107.00px;top:531.44px;font-size:14.13px;line-height:14.13px;color:#fff;font-weight:700;transform:scaleX(1.2538);-webkit-text-stroke:0.37px #fff;">1/1</span>
<span class="tx" style="left:1543.30px;top:531.44px;font-size:14.13px;line-height:14.13px;color:#fff;font-weight:700;transform:scaleX(1.4965);-webkit-text-stroke:0.37px #fff;">1/0</span>
<span class="tx" style="left:320.00px;top:582.02px;font-size:12.27px;line-height:12.27px;color:#a7b2fb;font-weight:700;transform:scaleX(0.7903);-webkit-text-stroke:0.32px #a7b2fb;">Ingen flere prøvehistorier tilgængelige</span>
<span class="tx" style="left:760.60px;top:582.02px;font-size:12.27px;line-height:12.27px;color:#a7b2fb;font-weight:700;transform:scaleX(0.8071);-webkit-text-stroke:0.32px #a7b2fb;">Ingen flere prøve voice-overs tilgængelige</span>
<span class="tx" style="left:1201.80px;top:582.02px;font-size:12.27px;line-height:12.27px;color:#a7b2fb;font-weight:700;transform:scaleX(0.7948);-webkit-text-stroke:0.32px #a7b2fb;">Ingen downloads tilgængelige</span>
<span class="tx" style="left:334.50px;top:648.54px;font-size:14.13px;line-height:14.13px;color:#fff;font-weight:700;transform:scaleX(0.7697);-webkit-text-stroke:0.37px #fff;">Farvelægningssider</span>
<span class="tx" style="left:620.30px;top:648.54px;font-size:14.13px;line-height:14.13px;color:#fff;font-weight:700;transform:scaleX(0.7969);-webkit-text-stroke:0.37px #fff;">3 per historie</span>
<span class="tx" style="left:775.80px;top:648.54px;font-size:14.13px;line-height:14.13px;color:#fff;font-weight:700;transform:scaleX(0.7707);-webkit-text-stroke:0.37px #fff;">Historier gemmes i</span>
<span class="tx" style="left:1102.80px;top:648.54px;font-size:14.13px;line-height:14.13px;color:#fff;font-weight:700;transform:scaleX(0.7997);-webkit-text-stroke:0.37px #fff;">1 dag</span>
<span class="tx" style="left:1216.50px;top:648.54px;font-size:14.13px;line-height:14.13px;color:#fff;font-weight:700;transform:scaleX(0.7446);-webkit-text-stroke:0.37px #fff;">Abonnementsstatus</span>
<span class="tx" style="left:1541.50px;top:650.91px;font-size:11.33px;line-height:11.33px;color:#a5c8fd;font-weight:700;transform:scaleX(0.7337);-webkit-text-stroke:0.29px #a5c8fd;">Gratis</span>
<span class="tx" style="left:320.00px;top:684.22px;font-size:12.27px;line-height:12.27px;color:#a7b2fb;font-weight:700;transform:scaleX(0.7914);-webkit-text-stroke:0.32px #a7b2fb;">Alle abonnementer inkluderer 3 farvelægningssider per historie</span>
<span class="tx" style="left:761.30px;top:684.22px;font-size:12.27px;line-height:12.27px;color:#a7b2fb;font-weight:700;transform:scaleX(0.7814);-webkit-text-stroke:0.32px #a7b2fb;">Historier er tilgængelige i 1 dag</span>
<span class="tx" style="left:1176.60px;top:683.43px;font-size:11.07px;line-height:11.07px;color:#a7b2fb;font-weight:700;transform:scaleX(0.7417);-webkit-text-stroke:0.29px #a7b2fb;">Næste fakturering</span>
<span class="tx" style="left:1554.10px;top:683.43px;font-size:11.07px;line-height:11.07px;color:#fff;font-weight:700;transform:scaleX(0.9608);-webkit-text-stroke:0.29px #fff;">N/A</span>
<span class="tx" style="left:1176.60px;top:701.13px;font-size:11.07px;line-height:11.07px;color:#a7b2fb;font-weight:700;transform:scaleX(0.7139);-webkit-text-stroke:0.29px #a7b2fb;">Status</span>
<span class="tx" style="left:1545.00px;top:701.13px;font-size:11.07px;line-height:11.07px;color:#34d399;font-weight:700;transform:scaleX(0.7531);-webkit-text-stroke:0.29px #34d399;">Inaktiv</span>
<span class="tx" style="left:1358.60px;top:733.84px;font-size:12.00px;line-height:12.00px;color:#fff;font-weight:700;transform:scaleX(0.6915);-webkit-text-stroke:0.31px #fff;">Administrer</span>
<span class="tx" style="left:334.00px;top:821.76px;font-size:12.80px;line-height:12.80px;color:#fff;font-weight:700;transform:scaleX(0.8606);-webkit-text-stroke:0.33px #fff;">Du bruger den gratis version</span>
<span class="tx" style="left:1498.80px;top:820.93px;font-size:12.13px;line-height:12.13px;color:#3b1d0b;font-weight:700;transform:scaleX(0.8183);-webkit-text-stroke:0.32px #3b1d0b;">Opgrader nu</span>
<span class="tx" style="left:256.19px;top:915.00px;font-size:21.73px;line-height:21.73px;color:#fff;font-weight:700;transform:scaleX(0.8084);-webkit-text-stroke:0.57px #fff;">Mine Børn</span>
<span class="tx" style="left:1714.80px;top:794.37px;font-size:11.73px;line-height:11.73px;color:#343a48;font-weight:400;transform:scaleX(0.8668);-webkit-text-stroke:0.33px #343a48;">Hej Hasan! Spørgsmål om dit</span>
<span class="tx" style="left:1714.80px;top:812.07px;font-size:11.73px;line-height:11.73px;color:#343a48;font-weight:400;transform:scaleX(0.8680);-webkit-text-stroke:0.33px #343a48;">gratis abonnement? Jeg er</span>
<span class="tx" style="left:1714.80px;top:829.77px;font-size:11.73px;line-height:11.73px;color:#343a48;font-weight:400;transform:scaleX(0.8830);-webkit-text-stroke:0.33px #343a48;">her for at hjælpe.</span>
</div>
<div class="a" style="left:0;top:937px;width:1898px;height:1px;background:#3a3c33"></div>
<div id="sb">
 <div class="a" style="left:3px;top:45px;width:12px;height:427.7px;border-radius:6px;background:#8f8f8f"></div>
 <div class="a" style="left:3px;top:926px;width:0;height:0;border-left:5px solid transparent;border-right:5px solid transparent;border-top:6.5px solid #8f8f8f"></div>
 <div class="a" style="left:3px;top:-3px;width:0;height:0;border-left:5px solid transparent;border-right:5px solid transparent;border-bottom:6.5px solid #8f8f8f"></div>
</div>
</body></html>
